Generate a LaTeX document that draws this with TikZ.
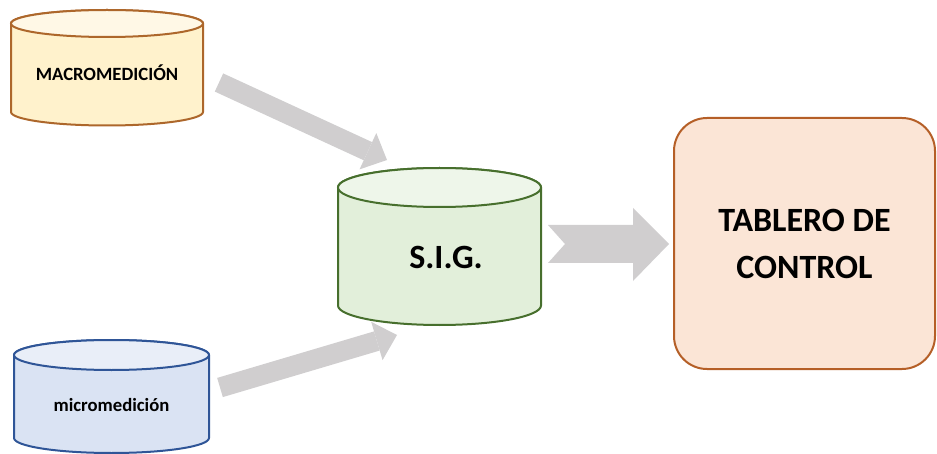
\documentclass[tikz,border=0pt]{standalone}
\usepackage{fontspec}
\setmainfont{Carlito}
\usetikzlibrary{arrows.meta}

\definecolor{macroedge}{HTML}{AD672B}
\definecolor{macrofill}{HTML}{FFF2CC}
\definecolor{macrotop}{HTML}{FFF8E6}
\definecolor{sigedge}{HTML}{476F2D}
\definecolor{sigfill}{HTML}{E2EFDA}
\definecolor{sigtop}{HTML}{EEF6EA}
\definecolor{microedge}{HTML}{2F5597}
\definecolor{microfill}{HTML}{DAE3F3}
\definecolor{microtop}{HTML}{E9EEF8}
\definecolor{paneledge}{HTML}{B55F27}
\definecolor{panelfill}{HTML}{FBE5D6}
\definecolor{arrowgray}{HTML}{D0CECF}

% drum: style, centre x, top y, bottom y, x radius, y radius, top colour
\newcommand{\datadrum}[7]{%
  \draw[#1] ({#2-#5},#3) -- ({#2-#5},#4)
    arc[start angle=180, end angle=360, x radius=#5pt, y radius=#6pt]
    -- ({#2+#5},#3)
    arc[start angle=0, end angle=180, x radius=#5pt, y radius=#6pt] -- cycle;
  \draw[#1, fill=#7] (#2,#3) ellipse[x radius=#5pt, y radius=#6pt];
}

\tikzset{
  macrodrum/.style={draw=macroedge, fill=macrofill, line width=2pt},
  sigdrum/.style={draw=sigedge, fill=sigfill, line width=2pt},
  microdrum/.style={draw=microedge, fill=microfill, line width=2pt},
  smalllabel/.style={font=\bfseries\fontsize{18.7}{22}\selectfont, anchor=base, inner sep=0pt},
  biglabel/.style={font=\bfseries\fontsize{34}{40}\selectfont, anchor=base, inner sep=0pt},
  panel/.style={draw=paneledge, fill=panelfill, line width=2pt, rounded corners=33pt,
    minimum width=261pt, minimum height=251pt, align=center,
    font=\bfseries\fontsize{34}{47}\selectfont},
  blockarrow/.style={draw=arrowgray, line width=20pt,
    -{Triangle[length=21pt, width=40pt, line width=0pt, fill=arrowgray]}}
}

\begin{document}
\begin{tikzpicture}[x=1pt, y=1pt]
\useasboundingbox (0,0) rectangle (937,453);

% the three drums
\datadrum{macrodrum}{107}{429.5}{341}{96}{13.5}{macrotop}
\datadrum{sigdrum}{439.5}{265.5}{147.5}{101.5}{19.5}{sigtop}
\datadrum{microdrum}{111.5}{98}{15}{97.5}{15}{microtop}

\node[smalllabel] (macro) at (107,372) {MACROMEDICIÓN};
\node[biglabel] (sig) at (446,184.5) {S.I.G.};
\node[smalllabel] (micro) at (111.5,41.6) {micromedición};

\node[panel] (tablero) at (804.5,209.5) {TABLERO DE\\CONTROL};

% block arrows
\coordinate (macroOut) at (219,370.5);
\coordinate (sigInTop) at (387,293);
\coordinate (microOut) at (220,65.5);
\coordinate (sigInBot) at (397,118);
\coordinate (sigOut) at (548,209);
\coordinate (tableroIn) at (669,209);

\draw[blockarrow] (macroOut) -- (sigInTop);
\draw[blockarrow] (microOut) -- (sigInBot);
\fill[arrowgray] (sigOut) ++(0,19) -- ++(85,0) -- ++(0,17) -- (tableroIn)
  -- ++(-36,-37) -- ++(0,18) -- ++(-85,0) -- ++(17,19) -- cycle;
\end{tikzpicture}
\end{document}
